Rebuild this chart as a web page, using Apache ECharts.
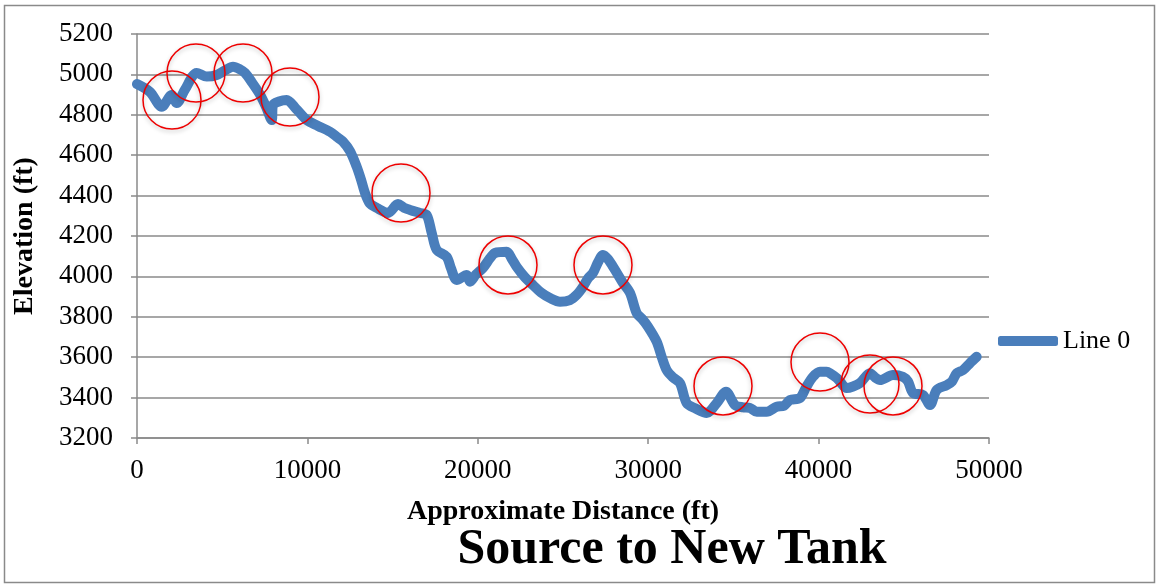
<!DOCTYPE html>
<html>
<head>
<meta charset="utf-8">
<title>Source to New Tank</title>
<script src="https://cdn.jsdelivr.net/npm/echarts@6/dist/echarts.min.js"></script>
<style>
  html, body { margin: 0; padding: 0; background: #fff; }
  #chart { width: 1156px; height: 584px; }
</style>
</head>
<body>
<div id="chart"></div>
<script>
// Distance along the pipeline route (ft)
var distance = [
  0, 763, 1450, 2036, 2330, 2817, 3503, 4090, 4677, 5164, 5634, 6045, 6338, 6749,
  7218, 7570, 7905, 7981, 8333, 8785, 9331, 9959, 10622, 11326, 11737, 12089,
  12500, 12893, 13145, 13380, 13673, 14067, 14730, 15317, 15669, 16021, 16608,
  17001, 17295, 17588, 18175, 18427, 18762, 19349, 19542, 19894, 20305, 20716,
  21009, 21696, 22007, 22283, 22770, 23239, 23709, 24237, 24824, 25411, 25822,
  26174, 26467, 26761, 27054, 27347, 27641, 28052, 28463, 28932, 29325, 29636,
  29988, 30498, 30791, 31085, 31455, 31866, 32259, 32805, 33433, 34020, 34566,
  35094, 35564, 35974, 36367, 36954, 37540, 37969, 38322, 38908, 39260, 39671,
  40082, 40475, 40669, 41062, 41256, 41650, 42019, 42430, 43016, 43310, 43603,
  44366, 44953, 45247, 45540, 46127, 46538, 46931, 47518, 47829, 48103, 48475,
  48885, 49277
];

// Ground elevation at each distance (ft)
var elevation = [
  4952, 4913, 4840, 4898, 4858, 4925, 5007, 4989, 4997, 5020, 5038, 5025, 5007, 4960,
  4900, 4840, 4774, 4849, 4866, 4873, 4830, 4774, 4745, 4716, 4690, 4667,
  4620, 4543, 4480, 4413, 4360, 4339, 4314, 4358, 4340, 4329, 4314,
  4304, 4215, 4131, 4097, 4040, 3982, 4007, 3974, 4010, 4042, 4090,
  4116, 4122, 4085, 4047, 3995, 3957, 3920, 3893, 3875, 3883, 3910,
  3949, 3990, 4017, 4070, 4106, 4085, 4032, 3975, 3918, 3818, 3790,
  3751, 3677, 3602, 3536, 3500, 3472, 3373, 3345, 3324, 3373, 3429,
  3363, 3352, 3349, 3330, 3330, 3355, 3360, 3388, 3398, 3450, 3503,
  3528, 3528, 3521, 3497, 3479, 3447, 3455, 3472, 3521, 3500, 3487,
  3512, 3503, 3480, 3423, 3413, 3363, 3438, 3462, 3480, 3521, 3536,
  3571, 3602
];

// High points marked along the profile: [distance, elevation]
var highPointX = [2054, 3462, 6221, 8979, 15493, 21772, 27347, 34390, 40082, 43016, 44366];
var highPointY = [4873, 5007, 5007, 4888, 4413, 4057, 4057, 3458, 3576, 3467, 3458];

var seriesName = 'Line 0';
var chartTitle = 'Source to New Tank';
var xAxisName = 'Approximate Distance (ft)';
var yAxisName = 'Elevation (ft)';

var serif = '"Liberation Serif", "DejaVu Serif", serif';
var axisGray = '#8a8a8a';
var lineBlue = '#4a7ebb';

var profile = distance.map(function (d, i) { return [d, elevation[i]]; });
var marks = highPointX.map(function (x, i) { return { coord: [x, highPointY[i]] }; });

// Plain integers, no thousands separators
function plain(v) { return String(v); }

var chart = echarts.init(document.getElementById('chart'), null, { renderer: 'canvas' });

chart.setOption({
  animation: false,
  backgroundColor: '#fff',
  grid: { left: 137, right: 167, top: 34, bottom: 146, containLabel: false },
  legend: {
    data: [seriesName],
    left: 993,
    top: 323,
    itemWidth: 60,
    itemHeight: 10,
    icon: 'roundRect',
    itemStyle: { color: lineBlue },
    textStyle: { fontFamily: serif, fontSize: 26, color: '#000' }
  },
  xAxis: {
    type: 'value',
    min: 0,
    max: 50000,
    interval: 10000,
    name: xAxisName,
    nameLocation: 'middle',
    nameGap: 60,
    nameTextStyle: { fontFamily: serif, fontSize: 28, fontWeight: 'bold', color: '#000' },
    axisLine: { show: true, lineStyle: { color: axisGray, width: 1.5 } },
    axisTick: { show: true, length: 6, lineStyle: { color: axisGray, width: 1.5 } },
    axisLabel: { fontFamily: serif, fontSize: 27, color: '#000', margin: 19, formatter: plain },
    splitLine: { show: false }
  },
  yAxis: {
    type: 'value',
    min: 3200,
    max: 5200,
    interval: 200,
    name: yAxisName,
    nameLocation: 'middle',
    nameGap: 98,
    nameTextStyle: { fontFamily: serif, fontSize: 28, fontWeight: 'bold', color: '#000' },
    axisLine: { show: true, lineStyle: { color: axisGray, width: 1.5 } },
    axisTick: { show: true, length: 6, lineStyle: { color: axisGray, width: 1.5 } },
    axisLabel: { fontFamily: serif, fontSize: 27, color: '#000', margin: 24, formatter: plain },
    splitLine: { show: true, lineStyle: { color: axisGray, width: 1.5 } }
  },
  series: [{
    name: seriesName,
    type: 'line',
    data: profile,
    symbol: 'none',
    smooth: 0.3,
    lineStyle: { color: lineBlue, width: 10, cap: 'round', join: 'round' },
    itemStyle: { color: lineBlue },
    markPoint: {
      symbol: 'circle',
      symbolSize: 58,
      silent: true,
      label: { show: false },
      itemStyle: {
        color: 'rgba(255,255,255,0)',
        borderColor: '#ee0000',
        borderWidth: 1.5,
        shadowColor: 'rgba(0,0,0,0.25)',
        shadowBlur: 4,
        shadowOffsetY: 2
      },
      data: marks
    }
  }],
  graphic: [
    {
      type: 'rect',
      shape: { x: 4.5, y: 5.5, width: 1150, height: 577 },
      style: { fill: null, stroke: '#8a8a8a', lineWidth: 1.5 },
      silent: true
    },
    {
      type: 'text',
      x: 672,
      y: 550,
      style: {
        text: chartTitle,
        fontFamily: serif,
        fontSize: 50,
        fontWeight: 'bold',
        fill: '#000',
        textAlign: 'center',
        textVerticalAlign: 'middle'
      }
    }
  ]
});
</script>
</body>
</html>
